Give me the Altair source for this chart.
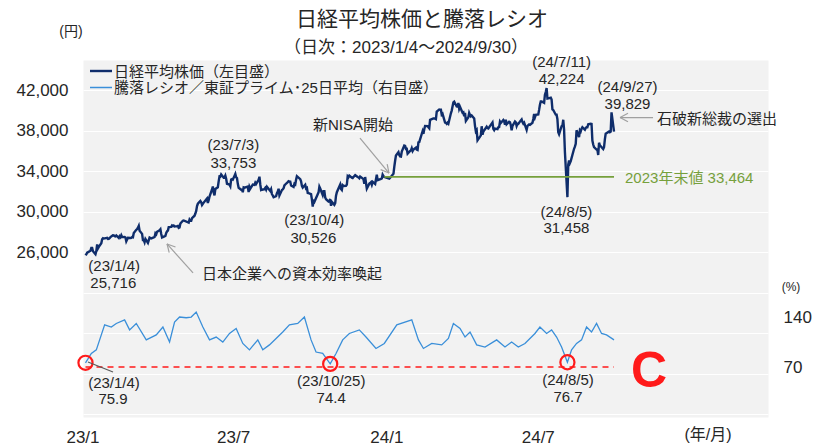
import math
import altair as alt
import pandas as pd

FONT = "Liberation Sans, Noto Sans CJK JP"
TXT = "#262626"
NAVY = "#0f2d6b"
BLUE = "#3a8fd9"
GREEN = "#76a03c"
RED = "#ff1a1a"
GRAY = "#a0a0a0"
DGRAY = "#595959"

W, H = 685, 357

# ---------------- data ----------------
nikkei_2023 = [
    ("01/04", 25716), ("01/05", 25820), ("01/06", 25973), ("01/10", 26175), ("01/11", 26446), ("01/12", 26449),
    ("01/13", 26119), ("01/16", 25822), ("01/17", 26138), ("01/18", 26791), ("01/19", 26405), ("01/20", 26553),
    ("01/23", 26906), ("01/24", 27299), ("01/25", 27395), ("01/26", 27363), ("01/27", 27382), ("01/30", 27433),
    ("01/31", 27327), ("02/01", 27346), ("02/02", 27402), ("02/03", 27509), ("02/06", 27693), ("02/07", 27685),
    ("02/08", 27606), ("02/09", 27584), ("02/10", 27670), ("02/13", 27427), ("02/14", 27602), ("02/15", 27501),
    ("02/16", 27696), ("02/17", 27513), ("02/20", 27531), ("02/21", 27473), ("02/22", 27104), ("02/24", 27453),
    ("02/27", 27423), ("02/28", 27445), ("03/01", 27516), ("03/02", 27498), ("03/03", 27927), ("03/06", 28237),
    ("03/07", 28309), ("03/08", 28444), ("03/09", 28623), ("03/10", 28143), ("03/13", 27832), ("03/14", 27222),
    ("03/15", 27229), ("03/16", 27010), ("03/17", 27333), ("03/20", 26945), ("03/22", 27466), ("03/23", 27419),
    ("03/24", 27385), ("03/27", 27476), ("03/28", 27518), ("03/29", 27883), ("03/30", 27782), ("03/31", 28041),
    ("04/03", 28188), ("04/04", 28287), ("04/05", 27813), ("04/06", 27472), ("04/07", 27518), ("04/10", 27633),
    ("04/11", 27923), ("04/12", 28082), ("04/13", 28156), ("04/14", 28493), ("04/17", 28514), ("04/18", 28658),
    ("04/19", 28606), ("04/20", 28657), ("04/21", 28564), ("04/24", 28593), ("04/25", 28620), ("04/26", 28416),
    ("04/27", 28457), ("04/28", 28856), ("05/01", 29123), ("05/02", 29157), ("05/08", 28949), ("05/09", 29242),
    ("05/10", 29122), ("05/11", 29126), ("05/12", 29388), ("05/15", 29626), ("05/16", 29842), ("05/17", 30093),
    ("05/18", 30573), ("05/19", 30808), ("05/22", 31086), ("05/23", 30957), ("05/24", 30682), ("05/25", 30801),
    ("05/26", 30916), ("05/29", 31233), ("05/30", 31328), ("05/31", 30887), ("06/01", 31148), ("06/02", 31524),
    ("06/05", 32217), ("06/06", 32506), ("06/07", 31913), ("06/08", 31641), ("06/09", 32265), ("06/12", 32434),
    ("06/13", 33018), ("06/14", 33502), ("06/15", 33485), ("06/16", 33706), ("06/19", 33370), ("06/20", 33388),
    ("06/21", 33575), ("06/22", 33264), ("06/23", 32781), ("06/26", 32698), ("06/27", 32538), ("06/28", 33193),
    ("06/29", 33234), ("06/30", 33189), ("07/03", 33753), ("07/04", 33422), ("07/05", 33338), ("07/06", 32773),
    ("07/07", 32388), ("07/10", 32189), ("07/11", 32203), ("07/12", 31943), ("07/13", 32419), ("07/14", 32391),
    ("07/18", 32493), ("07/19", 31952), ("07/20", 32490), ("07/21", 32304), ("07/24", 32700), ("07/25", 32682),
    ("07/26", 32668), ("07/27", 32891), ("07/28", 32759), ("07/31", 33172), ("08/01", 33476), ("08/02", 32707),
    ("08/03", 32159), ("08/04", 32192), ("08/07", 32254), ("08/08", 32377), ("08/09", 32204), ("08/10", 32473),
    ("08/14", 32059), ("08/15", 32238), ("08/16", 31766), ("08/17", 31626), ("08/18", 31450), ("08/21", 31565),
    ("08/22", 31856), ("08/23", 32010), ("08/24", 32287), ("08/25", 31624), ("08/28", 32169), ("08/29", 32227),
    ("08/30", 32333), ("08/31", 32619), ("09/01", 32710), ("09/04", 32939), ("09/05", 33036), ("09/06", 32991),
    ("09/07", 32991), ("09/08", 32606), ("09/11", 32467), ("09/12", 32776), ("09/13", 32706), ("09/14", 33168),
    ("09/15", 33533), ("09/19", 33242), ("09/20", 33023), ("09/21", 32571), ("09/22", 32402), ("09/25", 32678),
    ("09/26", 32315), ("09/27", 32371), ("09/28", 31872), ("09/29", 31857), ("10/02", 31759), ("10/03", 31237),
    ("10/04", 30526), ("10/05", 31075), ("10/06", 30994), ("10/10", 31746), ("10/11", 31936), ("10/12", 32494),
    ("10/13", 32315), ("10/16", 31659), ("10/17", 32040), ("10/18", 32042), ("10/19", 31430), ("10/20", 31259),
    ("10/23", 31019), ("10/24", 31062), ("10/25", 31269), ("10/26", 30601), ("10/27", 30991), ("10/30", 30696),
    ("10/31", 30858), ("11/01", 31601), ("11/02", 31949), ("11/06", 32708), ("11/07", 32271), ("11/08", 32166),
    ("11/09", 32646), ("11/10", 32568), ("11/13", 32585), ("11/14", 32695), ("11/15", 33519), ("11/16", 33424),
    ("11/17", 33585), ("11/20", 33388), ("11/21", 33354), ("11/22", 33451), ("11/24", 33625), ("11/27", 33447),
    ("11/28", 33408), ("11/29", 33321), ("11/30", 33486), ("12/01", 33431), ("12/04", 33231), ("12/05", 32775),
    ("12/06", 33445), ("12/07", 32858), ("12/08", 32307), ("12/11", 32791), ("12/12", 32843), ("12/13", 32926),
    ("12/14", 32686), ("12/15", 32970), ("12/18", 32758), ("12/19", 33219), ("12/20", 33675), ("12/21", 33140),
    ("12/22", 33169), ("12/25", 33254), ("12/26", 33305), ("12/27", 33681), ("12/28", 33539), ("12/29", 33464),
]

nikkei_2024 = [
    ("01/04", 33288), ("01/05", 33377), ("01/09", 33763), ("01/10", 34441), ("01/11", 35049), ("01/12", 35577),
    ("01/15", 35901), ("01/16", 35619), ("01/17", 35477), ("01/18", 35466), ("01/19", 35963), ("01/22", 36546),
    ("01/23", 36517), ("01/24", 36226), ("01/25", 36236), ("01/26", 35751), ("01/29", 36026), ("01/30", 36065),
    ("01/31", 36286), ("02/01", 36011), ("02/02", 36158), ("02/05", 36354), ("02/06", 36160), ("02/07", 36119),
    ("02/08", 36863), ("02/09", 36897), ("02/13", 37963), ("02/14", 37703), ("02/15", 38157), ("02/16", 38487),
    ("02/19", 38470), ("02/20", 38363), ("02/21", 38262), ("02/22", 39098), ("02/26", 39233), ("02/27", 39239),
    ("02/28", 39208), ("02/29", 39166), ("03/01", 39910), ("03/04", 40109), ("03/05", 40097), ("03/06", 40090),
    ("03/07", 39598), ("03/08", 39688), ("03/11", 38820), ("03/12", 38797), ("03/13", 38695), ("03/14", 38807),
    ("03/15", 38707), ("03/18", 39740), ("03/19", 40003), ("03/21", 40815), ("03/22", 40888), ("03/25", 40414),
    ("03/26", 40398), ("03/27", 40762), ("03/28", 40168), ("03/29", 40369), ("04/01", 39803), ("04/02", 39838),
    ("04/03", 39451), ("04/04", 39773), ("04/05", 38992), ("04/08", 39347), ("04/09", 39773), ("04/10", 39581),
    ("04/11", 39442), ("04/12", 39523), ("04/15", 39232), ("04/16", 38471), ("04/17", 37961), ("04/18", 38079),
    ("04/19", 37068), ("04/22", 37438), ("04/23", 37552), ("04/24", 38460), ("04/25", 37628), ("04/26", 37934),
    ("04/30", 38405), ("05/01", 38274), ("05/02", 38236), ("05/07", 38835), ("05/08", 38202), ("05/09", 38073),
    ("05/10", 38229), ("05/13", 38179), ("05/14", 38356), ("05/15", 38385), ("05/16", 38920), ("05/17", 38787),
    ("05/20", 39069), ("05/21", 38946), ("05/22", 38617), ("05/23", 39103), ("05/24", 38646), ("05/27", 38900),
    ("05/28", 38855), ("05/29", 38556), ("05/30", 38054), ("05/31", 38487), ("06/03", 38923), ("06/04", 38837),
    ("06/05", 38490), ("06/06", 38703), ("06/07", 38683), ("06/10", 39038), ("06/11", 39134), ("06/12", 38876),
    ("06/13", 38720), ("06/14", 38814), ("06/17", 38102), ("06/18", 38482), ("06/19", 38570), ("06/20", 38633),
    ("06/21", 38596), ("06/24", 38804), ("06/25", 39173), ("06/26", 39667), ("06/27", 39341), ("06/28", 39583),
    ("07/01", 39631), ("07/02", 40074), ("07/03", 40580), ("07/04", 40913), ("07/05", 40912), ("07/08", 40780),
    ("07/09", 41580), ("07/10", 41831), ("07/11", 42224), ("07/12", 41190), ("07/16", 41275), ("07/17", 41097),
    ("07/18", 40126), ("07/19", 40063), ("07/22", 39599), ("07/23", 39594), ("07/24", 39154), ("07/25", 37869),
    ("07/26", 37667), ("07/29", 38468), ("07/30", 38525), ("07/31", 39101), ("08/01", 38126), ("08/02", 35909),
    ("08/05", 31458), ("08/06", 34675), ("08/07", 35089), ("08/08", 34831), ("08/09", 35025), ("08/13", 36232),
    ("08/14", 36442), ("08/15", 36726), ("08/16", 38062), ("08/19", 37388), ("08/20", 38062), ("08/21", 37951),
    ("08/22", 38211), ("08/23", 38364), ("08/26", 38110), ("08/27", 38288), ("08/28", 38371), ("08/29", 38362),
    ("08/30", 38647), ("09/02", 38700), ("09/03", 38686), ("09/04", 37047), ("09/05", 36657), ("09/06", 36391),
    ("09/09", 36159), ("09/10", 36159), ("09/11", 35619), ("09/12", 36833), ("09/13", 36581), ("09/17", 36203),
    ("09/18", 36380), ("09/19", 37155), ("09/20", 37723), ("09/24", 37940), ("09/25", 37870), ("09/26", 37925),
    ("09/27", 39829), ("09/30", 37919),
]

ratio_2023 = [
    ("01/04", 75.9), ("01/11", 89), ("01/17", 94), ("01/27", 129), ("02/04", 126), ("02/10", 131), ("02/20", 136),
    ("02/26", 122), ("03/06", 131), ("03/18", 108), ("03/30", 115), ("04/07", 126), ("04/15", 105), ("04/21", 133),
    ("04/27", 140), ("05/05", 139), ("05/11", 140), ("05/17", 147), ("05/25", 126), ("06/02", 108), ("06/10", 112),
    ("06/18", 105), ("06/26", 117), ("07/04", 124), ("07/12", 103), ("07/20", 94), ("07/30", 108), ("08/05", 94),
    ("08/13", 101), ("08/21", 110), ("08/29", 119), ("09/06", 129), ("09/16", 131), ("09/24", 140), ("10/02", 108),
    ("10/08", 91), ("10/16", 89), ("10/25", 74.4), ("11/01", 89), ("11/09", 108), ("11/17", 117), ("11/29", 122),
    ("12/07", 112), ("12/19", 96), ("12/29", 103),
]

ratio_2024 = [
    ("01/13", 129), ("01/31", 136), ("02/08", 108), ("02/14", 96), ("02/24", 103), ("03/07", 101), ("03/15", 110),
    ("03/21", 131), ("03/29", 124), ("04/04", 112), ("04/10", 119), ("04/18", 101), ("04/28", 98), ("05/12", 108),
    ("05/22", 98), ("05/30", 105), ("06/07", 98), ("06/15", 103), ("06/27", 117), ("07/03", 126), ("07/11", 117),
    ("07/17", 122), ("07/23", 112), ("07/29", 98), ("08/05", 76.7), ("08/10", 94), ("08/16", 103), ("08/22", 108),
    ("08/28", 126), ("09/03", 119), ("09/09", 131), ("09/15", 117), ("09/21", 115), ("09/30", 108),
]

ratio_lows = [("2023/01/04", 75.9), ("2023/10/25", 74.4), ("2024/08/05", 76.7)]
year_end_2023 = 33464
ratio_threshold = 70
left_ticks = [10000, 14000, 18000, 22000, 26000, 30000, 34000, 38000, 42000]
right_ticks = [70, 140]
x_tick_dates = ["2023/01/01", "2023/07/01", "2024/01/01", "2024/07/01"]
x_tick_labels = ["23/1", "23/7", "24/1", "24/7"]

nk = pd.DataFrame({
    "d": ["2023/" + m for m, _ in nikkei_2023] + ["2024/" + m for m, _ in nikkei_2024],
    "v": [v for _, v in nikkei_2023] + [v for _, v in nikkei_2024],
})
rt = pd.DataFrame({
    "d": ["2023/" + m for m, _ in ratio_2023] + ["2024/" + m for m, _ in ratio_2024],
    "v": [v for _, v in ratio_2023] + [v for _, v in ratio_2024],
})
lows = pd.DataFrame({"d": [d for d, _ in ratio_lows], "v": [v for _, v in ratio_lows]})
xt = pd.DataFrame({"d": x_tick_dates, "t": x_tick_labels})

# ---------------- scales ----------------
xscale = alt.Scale(domain=[alt.DateTime(year=2023, month=1, date=1), alt.DateTime(year=2025, month=4, date=3)])
lscale = alt.Scale(domain=[9750, 45000], nice=False, zero=False)
rscale = alt.Scale(domain=[0, 500], nice=False, zero=False)


def anchor(date, value, scale):
    return alt.Chart(pd.DataFrame({"d": [date], "v": [value]})).encode(
        x=alt.X("d:T", scale=xscale, axis=None),
        y=alt.Y("v:Q", scale=scale, axis=None),
    )


def label(date, value, txt, dx, dy, scale=lscale, size=15, color=TXT, align="center"):
    return anchor(date, value, scale).mark_text(
        text=txt, dx=dx, dy=dy, fontSize=size, color=color, align=align, baseline="middle", font=FONT
    )


def seg(date, value, scale, p1, p2, color, width):
    return anchor(date, value, scale).mark_rule(
        xOffset=p1[0], yOffset=p1[1], x2Offset=p2[0], y2Offset=p2[1], color=color, strokeWidth=width
    ).encode(x2=alt.X2("d:T"), y2=alt.Y2("v:Q"))


def arrow(date, value, scale, tail, head, color=GRAY, width=1.2, hl=9):
    dx, dy = head[0] - tail[0], head[1] - tail[1]
    L = math.hypot(dx, dy)
    bx, by = -dx / L, -dy / L
    out = [seg(date, value, scale, tail, head, color, width)]
    for s in (1, -1):
        a = math.radians(28) * s
        rx = bx * math.cos(a) - by * math.sin(a)
        ry = bx * math.sin(a) + by * math.cos(a)
        out.append(seg(date, value, scale, head, (head[0] + hl * rx, head[1] + hl * ry), color, width))
    return out


blank = alt.Chart(pd.DataFrame({"a": [0]}))


def free_text(txt, px, py, size, color=TXT, align="center", weight="normal", baseline="middle"):
    return blank.mark_text(
        text=txt, fontSize=size, color=color, align=align, baseline=baseline, font=FONT, fontWeight=weight
    ).encode(x=alt.value(px), y=alt.value(py))


# ---------------- layers ----------------
nikkei_line = alt.Chart(nk).mark_line(color=NAVY, strokeWidth=2.4).encode(
    x=alt.X("d:T", scale=xscale, axis=None),
    y=alt.Y("v:Q", scale=lscale, axis=alt.Axis(
        values=left_ticks, labelExpr="datum.value >= 26000 ? format(datum.value, ',') : ''",
        grid=True, gridColor="white", gridWidth=1, ticks=False, domain=False, title=None,
        labelFontSize=17, labelPadding=15, labelColor=TXT, labelFont=FONT, labelFlush=False)),
)

ratio_line = alt.Chart(rt).mark_line(color=BLUE, strokeWidth=1.3).encode(
    x=alt.X("d:T", scale=xscale, axis=None),
    y=alt.Y("v:Q", scale=rscale, axis=alt.Axis(
        orient="right", values=right_ticks, ticks=False, domain=False, grid=False, title=None,
        labelFontSize=17, labelPadding=15, labelColor=TXT, labelFont=FONT, labelFlush=False)),
)

x_labels = alt.Chart(xt).mark_text(fontSize=17, color=TXT, font=FONT, baseline="middle", align="center").encode(
    x=alt.X("d:T", scale=xscale, axis=None), y=alt.value(H + 21), text="t:N")

green_rule = alt.Chart(pd.DataFrame({"d": ["2023/12/29"], "d2": ["2024/09/30"], "v": [year_end_2023]})).mark_rule(
    color=GREEN, strokeWidth=1.6).encode(
    x=alt.X("d:T", scale=xscale, axis=None), x2="d2:T", y=alt.Y("v:Q", scale=lscale, axis=None))

red_rule = alt.Chart(pd.DataFrame({"d": ["2023/01/04"], "d2": ["2024/09/30"], "v": [ratio_threshold]})).mark_rule(
    color=RED, strokeWidth=1.6, strokeDash=[6, 5]).encode(
    x=alt.X("d:T", scale=xscale, axis=None), x2="d2:T", y=alt.Y("v:Q", scale=rscale, axis=None))

circles = alt.Chart(lows).mark_point(shape="circle", size=200, filled=False, color=RED, strokeWidth=2.2, opacity=1).encode(
    x=alt.X("d:T", scale=xscale, axis=None), y=alt.Y("v:Q", scale=rscale, axis=None))

layers = [nikkei_line, green_rule, red_rule, ratio_line, circles, x_labels]

# annotations (Nikkei)
layers += [
    label("2023/01/04", 25716, "(23/1/4)", 28.7, 10.4),
    label("2023/01/04", 25716, "25,716", 27.8, 28),
    label("2023/07/03", 33753, "(23/7/3)", -2, -29),
    label("2023/07/03", 33753, "33,753", -2, -11.2),
    label("2023/10/04", 30526, "(23/10/4)", 1.5, 13.4),
    label("2023/10/04", 30526, "30,526", 0.6, 31.7),
    label("2024/07/11", 42224, "(24/7/11)", 15, -26.4),
    label("2024/07/11", 42224, "42,224", 15, -8.8),
    label("2024/08/05", 31458, "(24/8/5)", -1, 14.5),
    label("2024/08/05", 31458, "31,458", -1, 31.1),
    label("2024/09/27", 39829, "(24/9/27)", 16, -25.1),
    label("2024/09/27", 39829, "39,829", 16, -8.1),
    label("2024/09/27", 39829, "石破新総裁の選出", 45.5, 6.8, align="left"),
    label("2024/09/30", year_end_2023, "2023年末値 33,464", 11, 1.5, color=GREEN, align="left"),
    label("2024/01/04", 33288, "新NISA開始", -36.3, -53.6),
    label("2023/04/11", 27923, "日本企業への資本効率喚起", 35.8, 41, align="left"),
]
layers += arrow("2024/09/27", 39829, lscale, (41.5, 5.2), (8.5, 5.2))
layers += arrow("2024/01/04", 33288, lscale, (-29.3, -40.6), (-0.3, -5.6))
layers += arrow("2023/04/11", 27923, lscale, (26.8, 40), (0.8, 11))

# annotations (ratio)
layers += [
    seg("2023/01/04", 75.9, rscale, (2.5, -0.8), (27.5, 9.2), DGRAY, 1.2),
    label("2023/01/04", 75.9, "(23/1/4)", 28.5, 20.5, scale=rscale),
    label("2023/01/04", 75.9, "75.9", 27.5, 36.5, scale=rscale),
    label("2023/10/25", 74.4, "(23/10/25)", 1, 16.8, scale=rscale),
    label("2023/10/25", 74.4, "74.4", 1, 34.4, scale=rscale),
    label("2024/08/05", 76.7, "(24/8/5)", 0.6, 17.8, scale=rscale),
    label("2024/08/05", 76.7, "76.7", 0.6, 34.5, scale=rscale),
]

# titles, units, legend, mark
layers += [
    free_text("日経平均株価と騰落レシオ", 339, -40, 21),
    free_text("（日次：2023/1/4～2024/9/30）", 323, -12, 17),
    free_text("(円)", -12, -28.3, 14),
    free_text("(%)", 708, 227.3, 12),
    free_text("(年/月)", 625, 375, 16),
    free_text("C", 566, 327, 50, color=RED, weight="bold", baseline="alphabetic"),
    blank.mark_rule(color=NAVY, strokeWidth=2.4).encode(x=alt.value(7), x2=alt.value(29), y=alt.value(11), y2=alt.value(11)),
    blank.mark_rule(color=BLUE, strokeWidth=1.5).encode(x=alt.value(7), x2=alt.value(29), y=alt.value(27.5), y2=alt.value(27.5)),
    free_text("日経平均株価（左目盛）", 31, 11.5, 15, align="left"),
    free_text("騰落レシオ／東証プライム･25日平均（右目盛）", 31, 28, 15, align="left"),
]

chart = alt.layer(*layers).resolve_scale(y="independent").properties(
    width=W, height=H,
    autosize=alt.AutoSizeParams(type="none"),
    padding={"left": 75, "top": 52, "right": 45, "bottom": 30},
    background="white",
).configure_view(fill="#f2f2f2", stroke="transparent")

chart.save("out.html", embed_options={"renderer": "svg", "actions": False})
